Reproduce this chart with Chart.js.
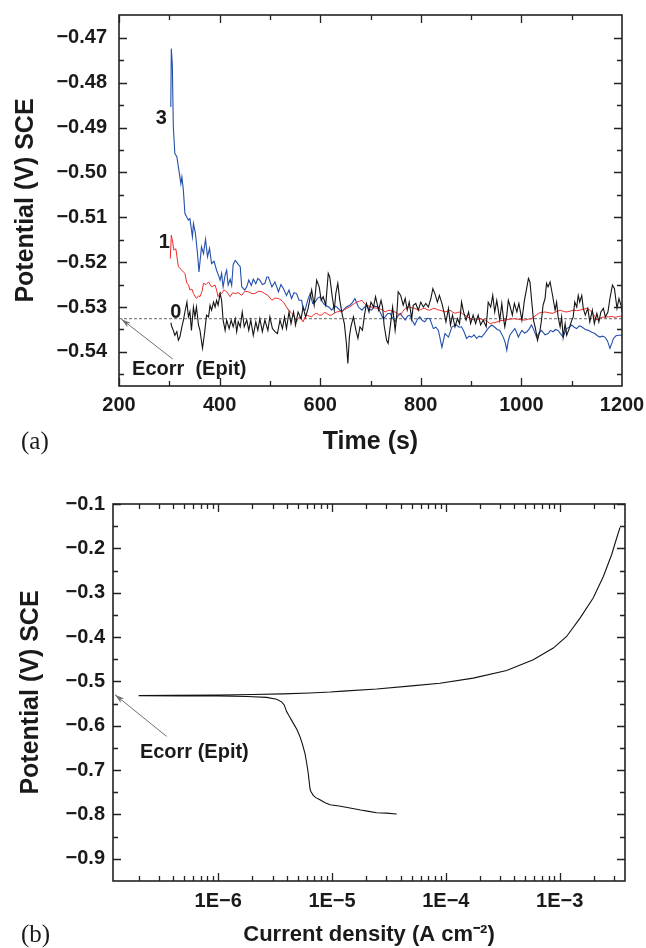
<!DOCTYPE html>
<html>
<head>
<meta charset="utf-8">
<script src="https://cdn.jsdelivr.net/npm/chart.js@4.4.0/dist/chart.umd.min.js"></script>
<style>
  body { margin: 0; background: #fff; }
  canvas { display: block; }
</style>
</head>
<body>
<canvas id="chartA" width="646" height="470"></canvas>
<canvas id="chartB" width="646" height="478"></canvas>
<script>
// ---- data ----
// (a) open circuit potential vs time, [time s, potential V]
const curve0 = [[303,-0.5335],[305,-0.5344],[308,-0.5352],[311,-0.5363],[315,-0.5355],[318,-0.5374],[321,-0.5367],[325,-0.5344],[328,-0.5330],[331,-0.5311],[335,-0.5289],[338,-0.5322],[341,-0.5310],[344,-0.5352],[348,-0.5300],[351,-0.5322],[354,-0.5300],[358,-0.5340],[361,-0.5352],[366,-0.5392],[370,-0.5359],[374,-0.5318],[378,-0.5322],[381,-0.5296],[384,-0.5307],[388,-0.5289],[391,-0.5300],[394,-0.5285],[397,-0.5296],[401,-0.5270],[404,-0.5285],[407,-0.5329],[411,-0.5352],[414,-0.5329],[419,-0.5348],[423,-0.5329],[427,-0.5344],[431,-0.5326],[434,-0.5355],[437,-0.5333],[441,-0.5344],[445,-0.5311],[449,-0.5344],[454,-0.5329],[458,-0.5352],[462,-0.5329],[467,-0.5363],[472,-0.5333],[476,-0.5352],[480,-0.5326],[485,-0.5355],[490,-0.5329],[496,-0.5352],[500,-0.5322],[505,-0.5348],[510,-0.5355],[515,-0.5359],[520,-0.5329],[525,-0.5348],[529,-0.5322],[533,-0.5348],[538,-0.5311],[542,-0.5337],[547,-0.5311],[551,-0.5340],[556,-0.5311],[562,-0.5326],[566,-0.5300],[571,-0.5322],[576,-0.5303],[583,-0.5262],[588,-0.5296],[593,-0.5240],[598,-0.5255],[602,-0.5285],[606,-0.5277],[611,-0.5296],[616,-0.5225],[619,-0.5233],[624,-0.5277],[628,-0.5307],[631,-0.5270],[635,-0.5247],[639,-0.5285],[644,-0.5318],[648,-0.5337],[652,-0.5380],[655,-0.5426],[658,-0.5367],[661,-0.5344],[666,-0.5322],[671,-0.5352],[675,-0.5370],[679,-0.5344],[684,-0.5352],[688,-0.5318],[692,-0.5292],[697,-0.5311],[701,-0.5289],[706,-0.5300],[710,-0.5277],[716,-0.5307],[721,-0.5285],[724,-0.5300],[727,-0.5340],[732,-0.5374],[735,-0.5381],[740,-0.5337],[744,-0.5300],[749,-0.5352],[752,-0.5322],[755,-0.5266],[760,-0.5274],[765,-0.5296],[769,-0.5281],[773,-0.5307],[777,-0.5289],[782,-0.5326],[785,-0.5296],[790,-0.5292],[795,-0.5307],[800,-0.5289],[805,-0.5300],[810,-0.5292],[815,-0.5300],[820,-0.5281],[824,-0.5259],[828,-0.5270],[833,-0.5289],[837,-0.5274],[842,-0.5292],[846,-0.5311],[850,-0.5333],[855,-0.5303],[859,-0.5340],[863,-0.5318],[868,-0.5344],[873,-0.5326],[877,-0.5337],[881,-0.5289],[885,-0.5311],[890,-0.5329],[895,-0.5311],[899,-0.5337],[904,-0.5318],[909,-0.5337],[914,-0.5318],[919,-0.5340],[924,-0.5329],[930,-0.5344],[934,-0.5289],[939,-0.5300],[943,-0.5274],[947,-0.5311],[951,-0.5285],[954,-0.5307],[957,-0.5329],[961,-0.5292],[964,-0.5322],[967,-0.5344],[971,-0.5318],[974,-0.5285],[977,-0.5296],[982,-0.5318],[986,-0.5292],[991,-0.5311],[995,-0.5292],[1001,-0.5329],[1006,-0.5285],[1011,-0.5255],[1014,-0.5236],[1017,-0.5244],[1020,-0.5281],[1024,-0.5329],[1028,-0.5348],[1032,-0.5374],[1037,-0.5352],[1040,-0.5329],[1043,-0.5296],[1047,-0.5281],[1050,-0.5247],[1053,-0.5255],[1057,-0.5244],[1060,-0.5262],[1063,-0.5281],[1067,-0.5307],[1070,-0.5289],[1073,-0.5322],[1077,-0.5344],[1080,-0.5322],[1083,-0.5367],[1087,-0.5337],[1090,-0.5363],[1095,-0.5348],[1099,-0.5333],[1103,-0.5322],[1106,-0.5289],[1110,-0.5300],[1113,-0.5274],[1116,-0.5289],[1120,-0.5274],[1123,-0.5303],[1127,-0.5318],[1132,-0.5303],[1136,-0.5333],[1141,-0.5307],[1145,-0.5337],[1150,-0.5314],[1154,-0.5333],[1158,-0.5311],[1163,-0.5303],[1167,-0.5322],[1172,-0.5311],[1176,-0.5281],[1181,-0.5251],[1185,-0.5259],[1190,-0.5303],[1194,-0.5281],[1198,-0.5296],[1200,-0.5311]];

const curve1 = [[302,-0.5192],[304,-0.5140],[306,-0.5150],[309,-0.5173],[313,-0.5170],[318,-0.5210],[322,-0.5215],[325,-0.5218],[331,-0.5225],[335,-0.5247],[338,-0.5250],[341,-0.5262],[345,-0.5260],[348,-0.5270],[354,-0.5281],[358,-0.5275],[361,-0.5277],[365,-0.5265],[368,-0.5247],[373,-0.5250],[378,-0.5244],[384,-0.5255],[391,-0.5251],[394,-0.5262],[397,-0.5277],[401,-0.5268],[404,-0.5270],[409,-0.5262],[414,-0.5266],[421,-0.5277],[426,-0.5268],[431,-0.5270],[437,-0.5268],[444,-0.5274],[450,-0.5265],[457,-0.5266],[464,-0.5270],[470,-0.5270],[477,-0.5265],[484,-0.5266],[490,-0.5270],[497,-0.5275],[504,-0.5285],[510,-0.5280],[517,-0.5281],[522,-0.5284],[527,-0.5289],[532,-0.5298],[537,-0.5307],[542,-0.5312],[547,-0.5318],[553,-0.5333],[556,-0.5325],[560,-0.5322],[566,-0.5333],[570,-0.5322],[573,-0.5318],[578,-0.5320],[583,-0.5322],[588,-0.5316],[593,-0.5314],[598,-0.5318],[603,-0.5318],[608,-0.5312],[613,-0.5314],[618,-0.5318],[623,-0.5318],[628,-0.5313],[633,-0.5311],[638,-0.5310],[643,-0.5311],[648,-0.5306],[653,-0.5303],[658,-0.5300],[663,-0.5296],[668,-0.5292],[673,-0.5289],[678,-0.5287],[683,-0.5285],[688,-0.5292],[692,-0.5296],[697,-0.5298],[702,-0.5300],[708,-0.5302],[715,-0.5303],[720,-0.5305],[725,-0.5307],[729,-0.5311],[734,-0.5308],[739,-0.5307],[744,-0.5310],[749,-0.5311],[754,-0.5315],[759,-0.5318],[764,-0.5310],[769,-0.5303],[774,-0.5301],[778,-0.5300],[783,-0.5302],[788,-0.5303],[793,-0.5305],[798,-0.5307],[803,-0.5304],[808,-0.5303],[813,-0.5306],[818,-0.5307],[823,-0.5304],[828,-0.5303],[833,-0.5306],[838,-0.5307],[843,-0.5309],[848,-0.5311],[853,-0.5309],[858,-0.5307],[863,-0.5311],[868,-0.5314],[873,-0.5312],[878,-0.5311],[883,-0.5315],[888,-0.5318],[893,-0.5322],[898,-0.5326],[903,-0.5328],[908,-0.5329],[913,-0.5327],[918,-0.5326],[923,-0.5328],[928,-0.5329],[933,-0.5333],[938,-0.5337],[943,-0.5335],[947,-0.5335],[957,-0.5331],[967,-0.5329],[977,-0.5327],[987,-0.5326],[997,-0.5328],[1007,-0.5329],[1014,-0.5327],[1020,-0.5326],[1027,-0.5320],[1034,-0.5314],[1040,-0.5312],[1047,-0.5311],[1055,-0.5313],[1063,-0.5314],[1070,-0.5310],[1077,-0.5307],[1084,-0.5310],[1090,-0.5311],[1097,-0.5309],[1103,-0.5307],[1110,-0.5308],[1116,-0.5307],[1123,-0.5305],[1130,-0.5303],[1135,-0.5306],[1140,-0.5311],[1145,-0.5320],[1150,-0.5329],[1155,-0.5326],[1160,-0.5323],[1167,-0.5322],[1173,-0.5322],[1180,-0.5321],[1186,-0.5323],[1193,-0.5321],[1200,-0.5320]];

const curve3 = [[303,-0.4854],[304,-0.4724],[306,-0.4760],[308,-0.4898],[311,-0.4958],[315,-0.4965],[320,-0.5002],[323,-0.5025],[325,-0.5010],[328,-0.5040],[331,-0.5091],[335,-0.5100],[338,-0.5106],[341,-0.5103],[346,-0.5144],[348,-0.5114],[352,-0.5136],[356,-0.5180],[359,-0.5222],[364,-0.5166],[368,-0.5181],[372,-0.5149],[376,-0.5188],[380,-0.5169],[384,-0.5203],[389,-0.5198],[394,-0.5218],[398,-0.5230],[401,-0.5240],[404,-0.5225],[407,-0.5255],[411,-0.5229],[414,-0.5218],[417,-0.5251],[421,-0.5238],[424,-0.5252],[427,-0.5205],[431,-0.5196],[434,-0.5200],[437,-0.5205],[441,-0.5210],[444,-0.5255],[450,-0.5262],[454,-0.5255],[458,-0.5240],[463,-0.5252],[467,-0.5238],[472,-0.5248],[476,-0.5236],[480,-0.5240],[485,-0.5250],[490,-0.5247],[494,-0.5233],[497,-0.5233],[504,-0.5255],[510,-0.5244],[517,-0.5266],[522,-0.5250],[527,-0.5259],[533,-0.5274],[538,-0.5262],[543,-0.5281],[548,-0.5268],[553,-0.5270],[558,-0.5285],[563,-0.5285],[566,-0.5303],[570,-0.5307],[575,-0.5285],[580,-0.5270],[585,-0.5292],[590,-0.5289],[595,-0.5280],[600,-0.5277],[605,-0.5290],[610,-0.5296],[617,-0.5300],[623,-0.5307],[628,-0.5298],[633,-0.5300],[640,-0.5308],[646,-0.5307],[652,-0.5300],[659,-0.5296],[664,-0.5290],[669,-0.5281],[676,-0.5300],[683,-0.5307],[688,-0.5300],[692,-0.5296],[697,-0.5305],[702,-0.5307],[708,-0.5298],[715,-0.5300],[719,-0.5311],[725,-0.5326],[729,-0.5322],[734,-0.5315],[739,-0.5314],[744,-0.5325],[749,-0.5333],[754,-0.5320],[759,-0.5314],[764,-0.5322],[769,-0.5329],[774,-0.5320],[778,-0.5318],[783,-0.5330],[788,-0.5340],[793,-0.5328],[798,-0.5322],[803,-0.5330],[808,-0.5333],[813,-0.5325],[818,-0.5326],[825,-0.5348],[830,-0.5345],[835,-0.5352],[842,-0.5390],[848,-0.5359],[855,-0.5367],[862,-0.5344],[866,-0.5342],[871,-0.5340],[876,-0.5345],[881,-0.5344],[886,-0.5355],[891,-0.5370],[896,-0.5365],[901,-0.5367],[906,-0.5362],[911,-0.5370],[916,-0.5365],[921,-0.5367],[926,-0.5360],[931,-0.5352],[936,-0.5345],[941,-0.5340],[947,-0.5345],[952,-0.5350],[957,-0.5352],[964,-0.5367],[968,-0.5380],[971,-0.5396],[974,-0.5375],[977,-0.5363],[982,-0.5355],[987,-0.5348],[991,-0.5358],[994,-0.5367],[998,-0.5358],[1001,-0.5352],[1006,-0.5358],[1011,-0.5355],[1016,-0.5348],[1020,-0.5340],[1025,-0.5352],[1030,-0.5367],[1035,-0.5358],[1040,-0.5352],[1047,-0.5362],[1053,-0.5359],[1058,-0.5352],[1063,-0.5355],[1068,-0.5350],[1073,-0.5352],[1078,-0.5360],[1083,-0.5367],[1087,-0.5355],[1090,-0.5348],[1095,-0.5345],[1100,-0.5340],[1105,-0.5345],[1110,-0.5348],[1115,-0.5342],[1120,-0.5344],[1127,-0.5350],[1133,-0.5352],[1140,-0.5356],[1146,-0.5359],[1151,-0.5364],[1156,-0.5367],[1161,-0.5365],[1166,-0.5367],[1171,-0.5375],[1176,-0.5392],[1180,-0.5380],[1183,-0.5370],[1188,-0.5364],[1193,-0.5363],[1200,-0.5363]];

const ecorrA = -0.5326;
const timeRange = [200, 1200];
const timeTicks = [200, 400, 600, 800, 1000, 1200];
const potTicksA = [-0.47, -0.48, -0.49, -0.50, -0.51, -0.52, -0.53, -0.54];

// (b) polarisation curve, [current density A/cm2, potential V]
const polCurve = [[3.7e-5,-0.799],[3.0e-5,-0.797],[2.47e-5,-0.796],[2.1e-5,-0.793],[1.78e-5,-0.790],[1.4e-5,-0.785],[1.15e-5,-0.781],[9.6e-6,-0.778],[8.6e-6,-0.773],[7.83e-6,-0.767],[7.2e-6,-0.762],[6.84e-6,-0.757],[6.5e-6,-0.748],[6.39e-6,-0.740],[6.18e-6,-0.707],[5.95e-6,-0.680],[5.78e-6,-0.662],[5.5e-6,-0.642],[5.22e-6,-0.624],[4.9e-6,-0.608],[4.56e-6,-0.594],[4.2e-6,-0.578],[3.99e-6,-0.568],[3.8e-6,-0.553],[3.6e-6,-0.546],[3.26e-6,-0.540],[2.66e-6,-0.536],[1.8e-6,-0.534],[1.0e-6,-0.533],[5e-7,-0.5325],[2.0e-7,-0.532],[4e-7,-0.5315],[1.0e-6,-0.531],[2.0e-6,-0.5295],[3.7e-6,-0.528],[6.4e-6,-0.526],[9.6e-6,-0.524],[1.25e-5,-0.522],[2.47e-5,-0.517],[5e-5,-0.510],[8.87e-5,-0.504],[1.74e-4,-0.4925],[3.42e-4,-0.4754],[5.86e-4,-0.4512],[8.79e-4,-0.4248],[1.15e-3,-0.3987],[1.51e-3,-0.3572],[1.97e-3,-0.312],[2.42e-3,-0.2633],[2.86e-3,-0.2144],[3.17e-3,-0.1767],[3.39e-3,-0.1528]];

const currentRange = [1.19e-7, 3.75e-3];
const currentTicks = [1e-6, 1e-5, 1e-4, 1e-3];
const currentTickLabels = ['1E\u22126', '1E\u22125', '1E\u22124', '1E\u22123'];
const potTicksB = [-0.1, -0.2, -0.3, -0.4, -0.5, -0.6, -0.7, -0.8, -0.9];

// ---- helpers ----
const sans = "'Liberation Sans', Arial, Helvetica, sans-serif";
Chart.defaults.font.family = sans;
Chart.defaults.color = '#1a1a1a';

const toPts = arr => arr.map(([x, y]) => ({x: x, y: y}));
const minusFmt = (v, d) => (v < 0 ? '\u2212' : '') + Math.abs(v).toFixed(d);
const tickFont = {size: 20, weight: 'bold'};

// keep the plot box where we put it: drop the edge label padding chart.js adds
const noEdgePad = s => { s.paddingTop = 0; s.paddingBottom = 0; s.paddingLeft = 0; s.paddingRight = 0; };

function halfSteps(ticks) {
  const out = [];
  for (let i = 0; i < ticks.length - 1; i++) out.push((ticks[i] + ticks[i + 1]) / 2);
  out.push(ticks[ticks.length - 1] + (ticks[1] - ticks[0]) / 2);
  return out;
}

// frame box plus inward ticks on all four sides
function frameTicks(xMajor, xMinor, yMajor, yMinor) {
  return {
    id: 'frameTicks',
    afterDatasetsDraw(chart) {
      const {ctx, chartArea: a, scales} = chart;
      const xs = scales.x, ys = scales.y;
      ctx.save();
      ctx.strokeStyle = '#222';
      ctx.lineWidth = 1.3;
      ctx.beginPath();
      const xTick = (v, len) => {
        const p = Math.round(xs.getPixelForValue(v)) + 0.5;
        if (p < a.left || p > a.right) return;
        ctx.moveTo(p, a.bottom); ctx.lineTo(p, a.bottom - len);
        ctx.moveTo(p, a.top); ctx.lineTo(p, a.top + len);
      };
      const yTick = (v, len) => {
        const p = Math.round(ys.getPixelForValue(v)) + 0.5;
        if (p < a.top || p > a.bottom) return;
        ctx.moveTo(a.left, p); ctx.lineTo(a.left + len, p);
        ctx.moveTo(a.right, p); ctx.lineTo(a.right - len, p);
      };
      xMajor.forEach(v => xTick(v, 8));
      xMinor.forEach(v => xTick(v, 5));
      yMajor.forEach(v => yTick(v, 8));
      yMinor.forEach(v => yTick(v, 5));
      ctx.stroke();
      ctx.lineWidth = 1.6;
      ctx.strokeRect(a.left, a.top, a.right - a.left, a.bottom - a.top);
      ctx.restore();
    }
  };
}

function arrow(ctx, x1, y1, x2, y2) {
  ctx.beginPath();
  ctx.moveTo(x1, y1);
  ctx.lineTo(x2, y2);
  ctx.stroke();
  const ang = Math.atan2(y2 - y1, x2 - x1), len = 10;
  ctx.beginPath();
  ctx.moveTo(x2, y2);
  ctx.lineTo(x2 - len * Math.cos(ang - 0.28), y2 - len * Math.sin(ang - 0.28));
  ctx.lineTo(x2 - len * 0.7 * Math.cos(ang), y2 - len * 0.7 * Math.sin(ang));
  ctx.lineTo(x2 - len * Math.cos(ang + 0.28), y2 - len * Math.sin(ang + 0.28));
  ctx.closePath();
  ctx.fill();
}

function panelLabel(ctx, text, y) {
  ctx.save();
  ctx.font = "25px 'Liberation Serif', 'Times New Roman', serif";
  ctx.fillStyle = '#1a1a1a';
  ctx.textBaseline = 'middle';
  ctx.textAlign = 'left';
  ctx.fillText(text, 21, y);
  ctx.restore();
}

const baseOpts = {
  responsive: false,
  animation: false,
  events: [],
  plugins: {legend: {display: false}, tooltip: {enabled: false}},
  elements: {point: {radius: 0}, line: {tension: 0}}
};

// ---- chart (a) ----
const notesA = {
  id: 'notesA',
  afterDraw(chart) {
    const {ctx, scales: {x, y}} = chart;
    ctx.save();
    ctx.fillStyle = '#1a1a1a';
    ctx.font = 'bold 20px ' + sans;
    ctx.textAlign = 'center';
    ctx.textBaseline = 'middle';
    ctx.fillText('3', x.getPixelForValue(284), y.getPixelForValue(-0.4879));
    ctx.fillText('1', x.getPixelForValue(290), y.getPixelForValue(-0.5156));
    ctx.fillText('0', x.getPixelForValue(313), y.getPixelForValue(-0.5313));
    ctx.textAlign = 'left';
    ctx.fillText('Ecorr  (Epit)', x.getPixelForValue(226), y.getPixelForValue(-0.5440));
    ctx.strokeStyle = '#707070';
    ctx.fillStyle = '#707070';
    ctx.lineWidth = 1;
    arrow(ctx, x.getPixelForValue(307), y.getPixelForValue(-0.5416),
               x.getPixelForValue(205), y.getPixelForValue(-0.5327));
    ctx.restore();
    panelLabel(ctx, '(a)', 442);
  }
};

new Chart(document.getElementById('chartA'), {
  type: 'scatter',
  data: {
    datasets: [
      {label: '0', data: toPts(curve0), showLine: true, borderColor: '#141414', borderWidth: 1.1},
      {label: '1', data: toPts(curve1), showLine: true, borderColor: '#ee2b2b', borderWidth: 1},
      {label: '3', data: toPts(curve3), showLine: true, borderColor: '#2350ab', borderWidth: 1.1},
      {label: 'Ecorr', data: toPts([[timeRange[0], ecorrA], [timeRange[1], ecorrA]]), showLine: true,
       borderColor: '#555', borderWidth: 0.9, borderDash: [3, 2]}
    ]
  },
  options: Object.assign({}, baseOpts, {
    layout: {padding: {top: 15, right: 24, left: 0, bottom: 0}},
    scales: {
      x: {
        type: 'linear', min: timeRange[0], max: timeRange[1],
        grid: {display: false, drawTicks: false}, border: {display: false},
        afterBuildTicks: s => { s.ticks = timeTicks.map(v => ({value: v})); },
        afterFit: s => { s.height = 84; noEdgePad(s); },
        ticks: {font: tickFont, padding: 7, maxRotation: 0, autoSkip: false, callback: v => String(v)},
        title: {display: true, text: 'Time (s)', font: {size: 25, weight: 'bold'}, padding: {top: 0, bottom: 13}}
      },
      y: {
        type: 'linear', min: -0.5476, max: -0.4649,
        grid: {display: false, drawTicks: false}, border: {display: false},
        afterBuildTicks: s => { s.ticks = potTicksA.map(v => ({value: v})); },
        afterFit: s => { s.width = 119; noEdgePad(s); },
        ticks: {font: tickFont, padding: 12, autoSkip: false, callback: v => minusFmt(v, 2)},
        title: {display: true, text: 'Potential (V) SCE', font: {size: 25, weight: 'bold'}, padding: {top: 11, bottom: 0}}
      }
    }
  }),
  plugins: [frameTicks(timeTicks, halfSteps(timeTicks).slice(0, -1), potTicksA, halfSteps(potTicksA)), notesA]
});

// ---- chart (b) ----
const logMinor = [];
for (let e = -7; e <= -3; e++) {
  for (let m = 2; m <= 9; m++) {
    const v = m * Math.pow(10, e);
    if (v > currentRange[0] && v < currentRange[1]) logMinor.push(v);
  }
}

const notesB = {
  id: 'notesB',
  afterDraw(chart) {
    const {ctx, scales: {x, y}} = chart;
    ctx.save();
    ctx.fillStyle = '#1a1a1a';
    ctx.font = 'bold 20px ' + sans;
    ctx.textAlign = 'left';
    ctx.textBaseline = 'middle';
    ctx.fillText('Ecorr (Epit)', x.getPixelForValue(2.05e-7), y.getPixelForValue(-0.661));
    ctx.strokeStyle = '#707070';
    ctx.fillStyle = '#707070';
    ctx.lineWidth = 1;
    arrow(ctx, x.getPixelForValue(3.52e-7), y.getPixelForValue(-0.624),
               x.getPixelForValue(1.24e-7), y.getPixelForValue(-0.530));
    ctx.restore();
    panelLabel(ctx, '(b)', 465);
  }
};

new Chart(document.getElementById('chartB'), {
  type: 'scatter',
  data: {
    datasets: [
      {label: 'polarisation', data: toPts(polCurve), showLine: true, borderColor: '#111', borderWidth: 1.1}
    ]
  },
  options: Object.assign({}, baseOpts, {
    layout: {padding: {top: 34, right: 21, left: 0, bottom: 0}},
    scales: {
      x: {
        type: 'logarithmic', min: currentRange[0], max: currentRange[1],
        grid: {display: false, drawTicks: false}, border: {display: false},
        afterBuildTicks: s => { s.ticks = currentTicks.map(v => ({value: v})); },
        afterFit: s => { s.height = 67; noEdgePad(s); },
        ticks: {font: tickFont, padding: 8, maxRotation: 0, autoSkip: false,
                callback: (v, i) => currentTickLabels[i]},
        title: {display: true, text: 'Current density (A cm\u207B\u00B2)', font: {size: 22, weight: 'bold'}, padding: {top: 0, bottom: 0}}
      },
      y: {
        type: 'linear', min: -0.95, max: -0.1,
        grid: {display: false, drawTicks: false}, border: {display: false},
        afterBuildTicks: s => { s.ticks = potTicksB.map(v => ({value: v})); },
        afterFit: s => { s.width = 113; noEdgePad(s); },
        ticks: {font: tickFont, padding: 8, autoSkip: false, callback: v => minusFmt(v, 1)},
        title: {display: true, text: 'Potential (V) SCE', font: {size: 25, weight: 'bold'}, padding: {top: 16, bottom: 0}}
      }
    }
  }),
  plugins: [frameTicks(currentTicks, logMinor, potTicksB, halfSteps(potTicksB)), notesB]
});
</script>
</body>
</html>
